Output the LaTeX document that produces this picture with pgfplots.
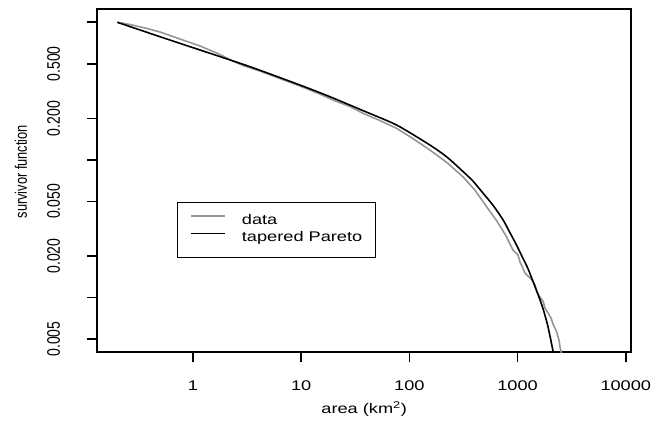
\documentclass[border=0pt]{standalone}
\usepackage{pgfplots}
\pgfplotsset{compat=1.18}
\usepackage{graphicx}
\usepackage{fontspec}
\setmainfont{Liberation Sans}[FakeStretch=1.3]
\newfontfamily\vfont{Liberation Sans}
\newcommand\yl[1]{\rotatebox{90}{\scalebox{1}[1.3]{\vfont #1}}}
\definecolor{datagray}{RGB}{150,150,150}
\begin{document}
\begin{tikzpicture}[font=\fontsize{14bp}{17bp}\selectfont]
\begin{axis}[name=ax, scale only axis, width=533.7bp, height=342.7bp,
 xmode=log, ymode=log, xmin=0.1305, xmax=11170, ymin=0.00402, ymax=1.243,
 axis line style={line width=1.6bp},
 xtick={1,10,100,1000,10000}, xticklabels={1,10,100,1000,10000},
 ytick={0.005,0.01,0.02,0.05,0.1,0.2,0.5,1},
 yticklabels={\yl{0.005},{},\yl{0.020},\yl{0.050},{},\yl{0.200},\yl{0.500},{}},
 minor tick num=0, minor tick length=0pt, minor tick style={draw=none},
 tick align=outside, tick pos=left, major tick length=10.5bp,
 major tick style={line width=1.6bp, black},
 xticklabel style={anchor=center, yshift=-23.5bp, inner sep=0pt},
 yticklabel style={anchor=east, inner sep=0pt, xshift=-26.6bp},
 xlabel={area (km\textsuperscript{2})},
 ylabel={{\fontsize{12.8bp}{15bp}\selectfont\rotatebox{90}{\scalebox{1}[1.3]{\vfont survivor function}}}},
 every axis x label/.style={at={(axis description cs:0.5,0)}, anchor=center, yshift=-57bp, font=\fontsize{14bp}{17bp}\selectfont},
 every axis y label/.style={at={(axis description cs:0,0.5)}, anchor=center, xshift=-76.3bp, yshift=9bp},
 legend style={at={(0.1488,0.4386)}, anchor=north west, draw=black, line width=1.2bp,
   inner xsep=13bp, inner ysep=12.3bp, row sep=4.3bp, column sep=16bp,
   nodes={inner sep=0pt, text height=10bp, text depth=3bp},
   font=\fontsize{14bp}{17bp}\selectfont},
 legend cell align=left,
 legend image code/.code={\path (0bp,0bp); \draw[#1] (0bp,5bp) -- (34bp,5bp);},
]
\addplot[datagray, line width=1.6bp] coordinates {
(0.2,1) (0.2618,0.9638) (0.3602,0.9091) (0.4956,0.8503) (0.7586,0.7560)
(1.161,0.6727) (1.655,0.5981) (2.342,0.5233) (2.897,0.4853) (4.158,0.4426)
(6.363,0.3905) (9.739,0.3443) (14.90,0.3012) (19.65,0.2724) (28.21,0.2444)
(37.19,0.2182) (53.39,0.1933) (76.17,0.1697) (107.7,0.1430) (154.7,0.1180)
(222.0,0.0957) (312.1,0.0755) (402.8,0.0604) (516.7,0.0457) (643.3,0.0360)
(790.6,0.02766) (815.3,0.02617) (907.2,0.02214) (1008.6,0.02037) (1052.4,0.01811)
(1098.2,0.01694) (1170.6,0.01507) (1248,0.01433) (1359,0.01341) (1448,0.01233)
(1511,0.01096) (1611,0.01008) (1717,0.00943) (1792,0.00839) (1910,0.00772)
(2036,0.00710) (2124,0.00642) (2217,0.00600) (2313,0.00552) (2413,0.00491)
(2466,0.00437) (2573,0.00382)
};
\addlegendentry{data}
\addplot[black, line width=1.6bp, smooth, tension=0.4] coordinates {
(0.2,1) (0.4956,0.7857) (1.161,0.6291) (3.362,0.4757) (9.739,0.3501)
(18.43,0.2879) (37.43,0.2278) (76.17,0.1793) (154.7,0.1283) (222.0,0.1050)
(314.1,0.0821) (386.1,0.0703) (480.6,0.0572) (590.8,0.0470) (735.5,0.0366)
(848.2,0.02968) (977.9,0.02406) (1118,0.01937) (1252,0.01611) (1383,0.01318)
(1539,0.01060) (1711,0.00839) (1903,0.00621) (2117,0.00415) (2209,0.00351)
};
\addlegendentry{tapered Pareto}
\end{axis}
\pgfresetboundingbox
\path[use as bounding box] (ax.south west) ++(-97.3bp,-80bp) rectangle ++(654bp,432bp);
\end{tikzpicture}
\end{document}
